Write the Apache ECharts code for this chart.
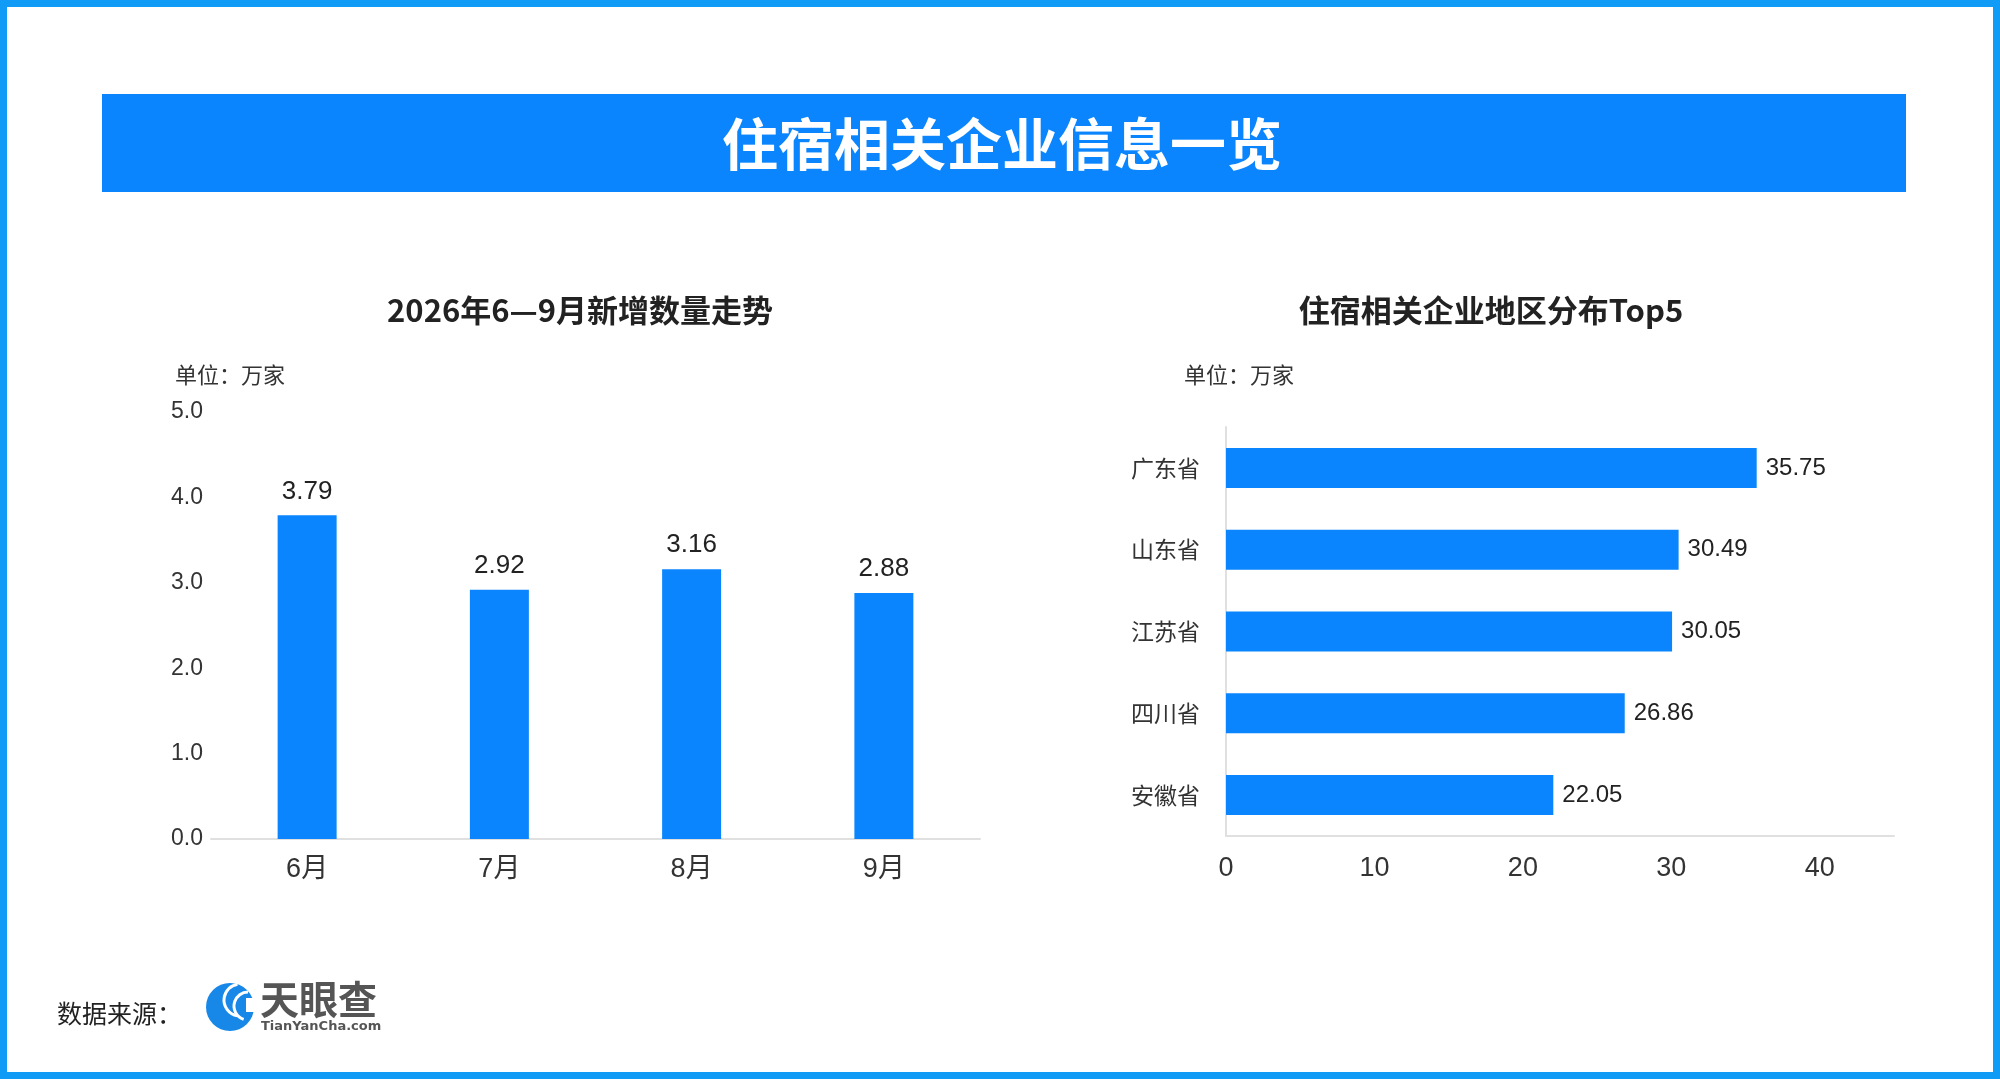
<!DOCTYPE html>
<html>
<head>
<meta charset="utf-8">
<script src="https://cdn.jsdelivr.net/npm/echarts@6/dist/echarts.min.js"></script>
<style>
html,body{margin:0;padding:0;background:#fff;}
#chart{width:2000px;height:1079px;}
</style>
</head>
<body>
<div id="chart"></div>
<script>
const months = ['6月', '7月', '8月', '9月'];
const monthValues = [3.79, 2.92, 3.16, 2.88];
const provinces = ['广东省', '山东省', '江苏省', '四川省', '安徽省'];
const provinceValues = [35.75, 30.49, 30.05, 26.86, 22.05];

const FONT = '"Noto Sans CJK SC", "Noto Sans", sans-serif';
const NUMFONT = '"Liberation Sans", "Noto Sans CJK SC", sans-serif';
const BLUE = '#0a85fd';
const chart = echarts.init(document.getElementById('chart'));

chart.setOption({
  backgroundColor: '#ffffff',
  animation: false,
  textStyle: { fontFamily: FONT },
  grid: [
    { left: 211, right: 1020, top: 412, bottom: 240 },
    { left: 1226, right: 106, top: 427, bottom: 243 }
  ],
  xAxis: [
    {
      gridIndex: 0, type: 'category', data: months,
      axisLine: { lineStyle: { color: '#e0e0e0', width: 2 } },
      axisTick: { show: false },
      axisLabel: { color: '#333', fontSize: 27, margin: 17, fontFamily: NUMFONT }
    },
    {
      gridIndex: 1, type: 'value', min: 0, max: 45, interval: 10,
      axisLine: { show: true, lineStyle: { color: '#e0e0e0', width: 2 } },
      axisTick: { show: false },
      splitLine: { show: false },
      axisLabel: { color: '#333', fontSize: 27, margin: 19, showMaxLabel: false, fontFamily: NUMFONT }
    }
  ],
  yAxis: [
    {
      gridIndex: 0, type: 'value', min: 0, max: 5, interval: 1,
      axisLine: { show: false }, axisTick: { show: false }, splitLine: { show: false },
      axisLabel: { color: '#333', fontSize: 23, margin: 8, formatter: v => v.toFixed(1), fontFamily: NUMFONT }
    },
    {
      gridIndex: 1, type: 'category', data: provinces, inverse: true,
      axisLine: { show: true, lineStyle: { color: '#e0e0e0', width: 2 } },
      axisTick: { show: false },
      axisLabel: { color: '#333', fontSize: 23, margin: 26, fontFamily: FONT }
    }
  ],
  series: [
    {
      type: 'bar', xAxisIndex: 0, yAxisIndex: 0, data: monthValues,
      barWidth: 59, itemStyle: { color: BLUE },
      label: { show: true, position: 'top', distance: 11, color: '#222', fontSize: 26, fontFamily: NUMFONT }
    },
    {
      type: 'bar', xAxisIndex: 1, yAxisIndex: 1, data: provinceValues,
      barWidth: 40, itemStyle: { color: BLUE },
      label: { show: true, position: 'right', distance: 9, color: '#222', fontSize: 24, fontFamily: NUMFONT }
    }
  ],
  graphic: [
    { type: 'rect', shape: { x: 3.5, y: 3.5, width: 1993, height: 1072 },
      style: { fill: 'none', stroke: '#109bf7', lineWidth: 7 } },
    { type: 'rect', shape: { x: 102, y: 94, width: 1804, height: 98 }, style: { fill: BLUE } },
    { type: 'text', x: 1002, y: 144,
      style: { text: '住宿相关企业信息一览', fill: '#fff', font: 'bold 56px ' + FONT, textAlign: 'center', textVerticalAlign: 'middle' } },
    { type: 'text', x: 580, y: 310,
      style: { text: '2026年6—9月新增数量走势', fill: '#222', font: 'bold 31px ' + FONT, textAlign: 'center', textVerticalAlign: 'middle' } },
    { type: 'text', x: 1491, y: 310,
      style: { text: '住宿相关企业地区分布Top5', fill: '#222', font: 'bold 31px ' + FONT, textAlign: 'center', textVerticalAlign: 'middle' } },
    { type: 'text', x: 175, y: 375,
      style: { text: '单位：万家', fill: '#333', font: '22px ' + FONT, textAlign: 'left', textVerticalAlign: 'middle' } },
    { type: 'text', x: 1184, y: 375,
      style: { text: '单位：万家', fill: '#333', font: '22px ' + FONT, textAlign: 'left', textVerticalAlign: 'middle' } },
    { type: 'text', x: 57, y: 1013,
      style: { text: '数据来源：', fill: '#222', font: '25px ' + FONT, textAlign: 'left', textVerticalAlign: 'middle' } },
    { type: 'circle', shape: { cx: 230, cy: 1007, r: 24 }, style: { fill: '#1787e8' } },
    { type: 'arc', shape: { cx: 240, cy: 1000, r: 16, startAngle: Math.PI * 0.55, endAngle: Math.PI * 1.45 },
      style: { stroke: '#fff', lineWidth: 3, fill: 'none' } },
    { type: 'arc', shape: { cx: 248, cy: 1006, r: 14, startAngle: Math.PI * 0.6, endAngle: Math.PI * 1.5 },
      style: { stroke: '#fff', lineWidth: 3, fill: 'none' } },
    { type: 'rect', shape: { x: 246, y: 998, width: 12, height: 14 }, style: { fill: '#fff' } },
    { type: 'text', x: 260, y: 999,
      style: { text: '天眼查', fill: '#555', font: 'bold 39px ' + FONT, textAlign: 'left', textVerticalAlign: 'middle' } },
    { type: 'text', x: 261, y: 1027,
      style: { text: 'TianYanCha.com', fill: '#555', font: 'bold 13px "DejaVu Sans", sans-serif', textAlign: 'left', textVerticalAlign: 'middle' } }
  ]
});
</script>
</body>
</html>
